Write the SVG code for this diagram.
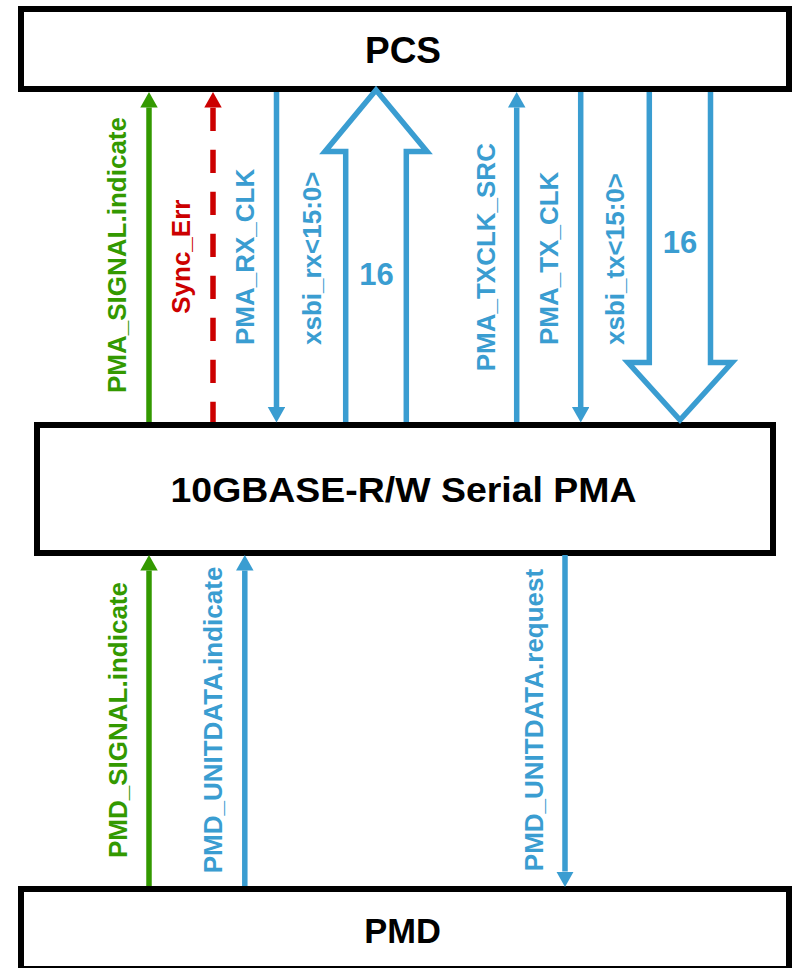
<svg xmlns="http://www.w3.org/2000/svg" width="794" height="968" viewBox="0 0 794 968">
<style>
.box{fill:#fff;stroke:#000;stroke-width:6}
.title{font-family:"Liberation Sans",Arial,sans-serif;font-weight:bold;fill:#000;text-anchor:middle}
.lbl{font-family:"Liberation Sans",Arial,sans-serif;font-weight:bold;font-size:26px}
.num{font-family:"Liberation Sans",Arial,sans-serif;font-weight:bold;font-size:31px;text-anchor:middle}
.g{fill:#339900}.r{fill:#cc0000}.b{fill:#3a9dd1}
.ln{fill:none;stroke-width:5.5}
.lg{stroke:#339900}.lr{stroke:#cc0000}.lb{stroke:#3a9dd1}
.blk{fill:none;stroke:#3a9dd1;stroke-width:5.5;stroke-linejoin:miter;stroke-miterlimit:10}
</style>
<defs>
<marker id="ahG" markerUnits="userSpaceOnUse" markerWidth="16" markerHeight="18" refX="0" refY="8.75" orient="auto"><path d="M0,0 L15.5,8.75 L0,17.5 z" fill="#339900"/></marker>
<marker id="ahR" markerUnits="userSpaceOnUse" markerWidth="16" markerHeight="18" refX="0" refY="8.75" orient="auto"><path d="M0,0 L15.5,8.75 L0,17.5 z" fill="#cc0000"/></marker>
<marker id="ahB" markerUnits="userSpaceOnUse" markerWidth="16" markerHeight="18" refX="0" refY="8.75" orient="auto"><path d="M0,0 L15.5,8.75 L0,17.5 z" fill="#3a9dd1"/></marker>
</defs>
<g id="pcs"><rect class="box" x="21" y="9" width="768" height="80"/><text class="title" x="403" y="63" font-size="37">PCS</text></g>
<g id="pma"><rect class="box" x="37" y="425" width="736" height="128"/><text class="title" x="403.5" y="502" font-size="35" textLength="466" lengthAdjust="spacingAndGlyphs">10GBASE-R/W Serial PMA</text></g>
<g id="pmd"><rect class="box" x="21" y="889" width="768" height="80"/><text class="title" x="402.5" y="943" font-size="34.5">PMD</text></g>
<g id="connectors">
<path class="ln lg" d="M149,422 V107.5" marker-end="url(#ahG)"/>
<path class="ln lr" d="M213,422 V107.5" stroke-dasharray="23.3 18.7" stroke-dashoffset="3" marker-end="url(#ahR)"/>
<path class="ln lb" d="M276.5,92 V407" marker-end="url(#ahB)"/>
<path class="blk" d="M345.7,422 V151.5 H325 L376,90 L427,151.5 H406.3 V422"/>
<path class="ln lb" d="M516.7,422 V107.5" marker-end="url(#ahB)"/>
<path class="ln lb" d="M580.7,92 V407" marker-end="url(#ahB)"/>
<path class="blk" d="M649.3,92 V362.5 H628 L680,420 L732,362.5 H710.5 V92"/>
<path class="ln lg" d="M149,886 V570.5" marker-end="url(#ahG)"/>
<path class="ln lb" d="M244.8,886 V570.5" marker-end="url(#ahB)"/>
<path class="ln lb" d="M565,555 V871.5" marker-end="url(#ahB)"/>
</g>
<g id="labels">
<text class="lbl g" text-anchor="middle" transform="translate(126,255) rotate(-90)">PMA_SIGNAL.indicate</text>
<text class="lbl r" text-anchor="middle" transform="translate(190,256.7) rotate(-90)">Sync_Err</text>
<text class="lbl b" transform="translate(254,345) rotate(-90)">PMA_RX_CLK</text>
<text class="lbl b" transform="translate(321,345) rotate(-90)">xsbi_rx&lt;15:0&gt;</text>
<text class="num b" x="376.5" y="285">16</text>
<text class="lbl b" text-anchor="middle" transform="translate(494.5,257.2) rotate(-90)">PMA_TXCLK_SRC</text>
<text class="lbl b" transform="translate(558,345) rotate(-90)">PMA_TX_CLK</text>
<text class="lbl b" transform="translate(624,345) rotate(-90)">xsbi_tx&lt;15:0&gt;</text>
<text class="num b" x="680" y="252.7">16</text>
<text class="lbl g" text-anchor="middle" transform="translate(127,720) rotate(-90)">PMD_SIGNAL.indicate</text>
<text class="lbl b" text-anchor="middle" transform="translate(222,720) rotate(-90)">PMD_UNITDATA.indicate</text>
<text class="lbl b" text-anchor="middle" transform="translate(543,720) rotate(-90)">PMD_UNITDATA.request</text>
</g>
</svg>
